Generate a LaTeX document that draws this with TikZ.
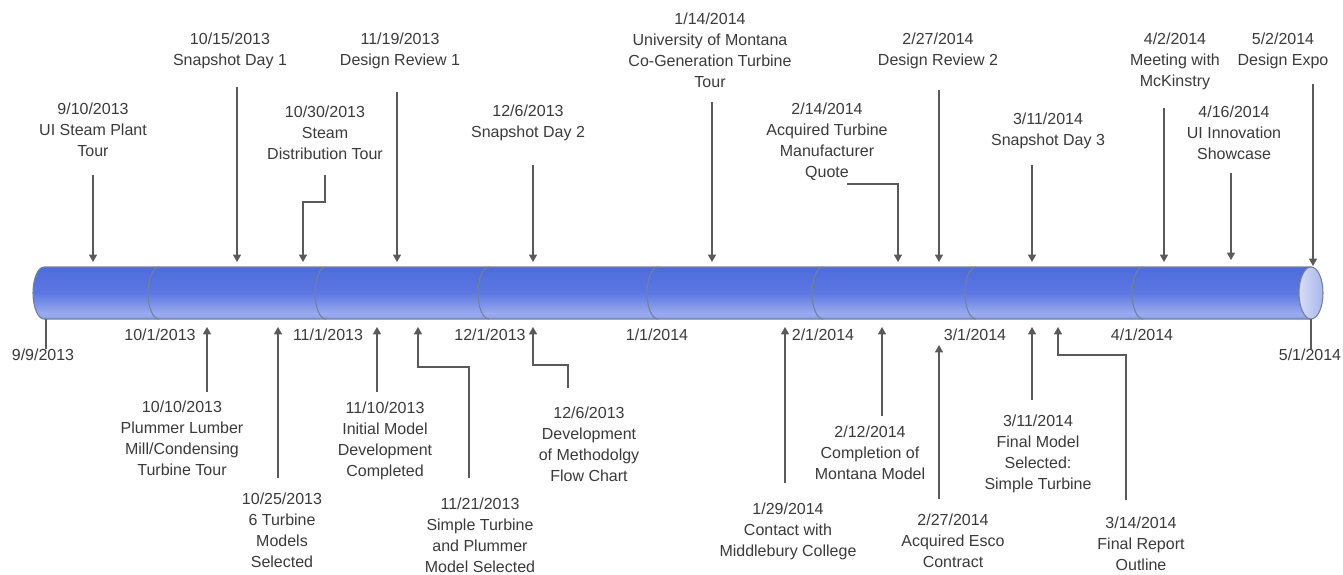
\documentclass[tikz,border=0pt]{standalone}
\usepackage{fontspec}
\setmainfont{Liberation Sans}
\usepackage{xcolor}
\usepackage{tikz}
\usetikzlibrary{arrows.meta}

\definecolor{txtgray}{HTML}{3A3A3A}
\definecolor{arrowgray}{HTML}{5A5A5A}
\definecolor{tubeedge}{HTML}{74809A}
\definecolor{tubeT}{HTML}{3F5ED6}
\definecolor{tubeM}{HTML}{5C78E2}
\definecolor{tubeL}{HTML}{9AABEF}
\definecolor{tubeB}{HTML}{566ED4}
\definecolor{capL}{HTML}{D6DDF7}
\definecolor{capR}{HTML}{A8B6EC}

\pgfdeclareverticalshading{tubeshade}{100bp}{color(0bp)=(tubeB); color(12bp)=(tubeM); color(30bp)=(tubeL); color(50bp)=(tubeM); color(100bp)=(tubeT)}

\tikzset{
  lbl/.style={align=center, text=txtgray, inner sep=0pt,
    font=\fontsize{12}{15.75}\selectfont},
  evarrow/.style={draw=arrowgray, line width=0.9pt,
    -{Triangle[width=6pt,length=5.5pt]}},
  tick/.style={draw=arrowgray, line width=0.9pt},
  tubeline/.style={draw=tubeedge, line width=0.8pt}
}

\begin{document}
\begin{tikzpicture}[x=0.75pt, y=-0.75pt]
  \useasboundingbox (0,0) rectangle (1343,575);

  % the tube
  \shade[shading=tubeshade, tubeline] (1311,267) -- (44,267)
    arc[start angle=90, end angle=270, x radius=8.25pt, y radius=19.5pt]
    -- (1311,319) -- cycle;
  \foreach \cx in {159,326,489,658,823,976,1143}
    \draw[tubeline] (\cx,267) arc[start angle=90, end angle=270, x radius=8.25pt, y radius=19.5pt];
  \draw[tubeline, left color=capL, right color=capR] (1311,293) ellipse [x radius=9pt, y radius=19.5pt];

  % month labels
  \node[lbl] (m10) at (160,335) {10/1/2013};
  \node[lbl] (m11) at (328,335) {11/1/2013};
  \node[lbl] (m12) at (490,335) {12/1/2013};
  \node[lbl] (m01) at (657,335) {1/1/2014};
  \node[lbl] (m02) at (823,335) {2/1/2014};
  \node[lbl] (m03) at (975,335) {3/1/2014};
  \node[lbl] (m04) at (1142,335) {4/1/2014};
  \node[lbl] (dstart) at (43,355) {9/9/2013};
  \node[lbl] (dend) at (1310,355) {5/1/2014};
  \coordinate (kstart) at (46,319);
  \coordinate (kend) at (1311,319);
  \draw[tick] (kstart) -- (kstart |- dstart.north);
  \draw[tick] (kend) -- (kend |- dend.north);

  % events above
  \node[lbl] (a1) at (93,130) {9/10/2013\\UI Steam Plant\\Tour};
  \node[lbl] (a2) at (230,50.5) {10/15/2013\\Snapshot Day 1};
  \node[lbl] (a3) at (325,133) {10/30/2013\\Steam\\Distribution Tour};
  \node[lbl] (a4) at (400,50.5) {11/19/2013\\Design Review 1};
  \node[lbl] (a5) at (528,122.5) {12/6/2013\\Snapshot Day 2};
  \node[lbl] (a6) at (710,50.5) {1/14/2014\\University of Montana\\Co-Generation Turbine\\Tour};
  \node[lbl] (a7) at (827,141.5) {2/14/2014\\Acquired Turbine\\Manufacturer\\Quote};
  \node[lbl] (a8) at (938,50.5) {2/27/2014\\Design Review 2};
  \node[lbl] (a9) at (1048,130.5) {3/11/2014\\Snapshot Day 3};
  \node[lbl] (a10) at (1175,61) {4/2/2014\\Meeting with\\McKinstry};
  \node[lbl] (a11) at (1234,133) {4/16/2014\\UI Innovation\\Showcase};
  \node[lbl] (a12) at (1283,50.5) {5/2/2014\\Design Expo};

  \foreach \n/\x/\ya/\yb in {1/93/175/262, 2/237/87/262, 4/397/92/262, 5/533/165/262,
      6/712/102/262, 8/939/90/262, 9/1032/165/262, 10/1164/108/262,
      11/1231/173/260, 12/1313/84/266} {
    \coordinate (s\n) at (\x,\ya);
    \coordinate (t\n) at (\x,\yb);
    \draw[evarrow] (s\n) -- (t\n);
  }
  \coordinate (s3) at (325,175);
  \coordinate (t3) at (303,262);
  \draw[evarrow] (s3) -- (325,202) -| (t3);
  \coordinate (s7) at (847,184);
  \coordinate (t7) at (898,262);
  \draw[evarrow] (s7) -| (t7);

  % events below
  \node[lbl] (b1) at (182,438) {10/10/2013\\Plummer Lumber\\Mill/Condensing\\Turbine Tour};
  \node[lbl] (b2) at (282,530) {10/25/2013\\6 Turbine\\Models\\Selected};
  \node[lbl] (b3) at (385,441) {11/10/2013\\Initial Model\\Development\\Completed};
  \node[lbl] (b4) at (480,535) {11/21/2013\\Simple Turbine\\and Plummer\\Model Selected};
  \node[lbl] (b5) at (589,444) {12/6/2013\\Development\\of Methodolgy\\Flow Chart};
  \node[lbl] (b6) at (788,531) {1/29/2014\\Contact with\\Middlebury College};
  \node[lbl] (b7) at (870,453) {2/12/2014\\Completion of\\Montana Model};
  \node[lbl] (b8) at (953,541) {2/27/2014\\Acquired Esco\\Contract};
  \node[lbl] (b9) at (1038,454) {3/11/2014\\Final Model\\Selected:\\Simple Turbine};
  \node[lbl] (b10) at (1141,544) {3/14/2014\\Final Report\\Outline};

  \foreach \n/\x/\ya/\yb in {1/207/392/327, 2/278/478/327, 3/377/392/327, 6/785/483/327,
      7/882/416/327, 8/939/499/345, 9/1032/400/327} {
    \coordinate (u\n) at (\x,\ya);
    \coordinate (v\n) at (\x,\yb);
    \draw[evarrow] (u\n) -- (v\n);
  }
  \coordinate (u4) at (469,478);
  \coordinate (v4) at (418,327);
  \draw[evarrow] (u4) -- (469,367) -| (v4);
  \coordinate (u5) at (568,388);
  \coordinate (v5) at (533,327);
  \draw[evarrow] (u5) -- (568,365) -| (v5);
  \coordinate (u10) at (1126,500);
  \coordinate (v10) at (1058,327);
  \draw[evarrow] (u10) -- (1126,355) -| (v10);
\end{tikzpicture}
\end{document}
